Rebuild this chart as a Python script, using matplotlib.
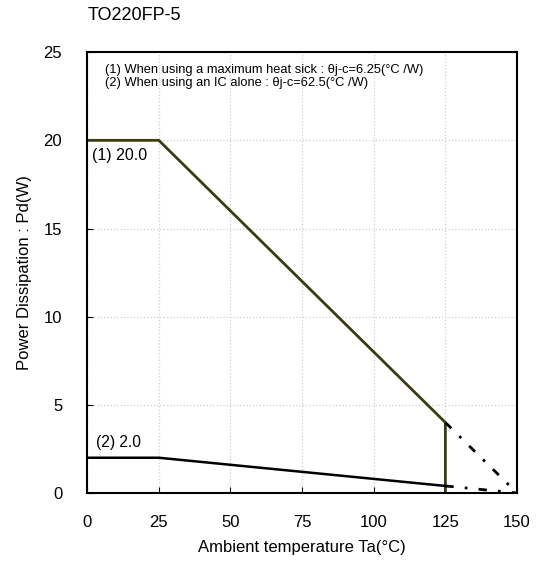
import matplotlib.pyplot as plt

plt.rcParams['font.family'] = ['Liberation Sans', 'DejaVu Sans']

# derating curves (solid part) and the extrapolated dashed part
ta_1 = [0, 25, 125, 125]
pd_1 = [20.0, 20.0, 4.0, 0.0]
ta_1_ext = [125, 150]
pd_1_ext = [4.0, 0.0]

ta_2 = [0, 25, 125]
pd_2 = [2.0, 2.0, 0.4]
ta_2_ext = [125, 150]
pd_2_ext = [0.4, 0.0]

xticks = [0, 25, 50, 75, 100, 125, 150]
yticks = [0, 5, 10, 15, 20, 25]

fig = plt.figure(figsize=(5.38, 5.67), dpi=100)
ax = fig.add_axes([0.162, 0.1305, 0.799, 0.7775])

ax.plot(ta_1, pd_1, color='#3b3b12', lw=2)
ax.plot(ta_1_ext, pd_1_ext, color='black', lw=2, linestyle=(0, (3, 4, 1, 4)))
ax.plot(ta_2, pd_2, color='black', lw=1.8)
ax.plot(ta_2_ext, pd_2_ext, color='black', lw=2, linestyle=(0, (3, 4, 1, 4)))

ax.set_xlim(0, 150)
ax.set_ylim(0, 25)
ax.set_xticks(xticks)
ax.set_yticks(yticks)
ax.tick_params(direction='in', labelsize=12, length=4)
ax.tick_params(axis='x', pad=16)
ax.tick_params(axis='y', pad=18)
ax.grid(True, color='#cfcfcf', linestyle=':', linewidth=0.9)
for s in ax.spines.values():
    s.set_linewidth(1.5)

ax.set_xlabel('Ambient temperature Ta(\u00b0C)', fontsize=12, labelpad=7)
ax.set_ylabel('Power Dissipation : Pd(W)', fontsize=12, labelpad=8)

ax.text(6.2, 24.35, '(1) When using a maximum heat sick : \u03b8j-c=6.25(\u00b0C /W)\n'
        '(2) When using an IC alone : \u03b8j-c=62.5(\u00b0C /W)',
        fontsize=9.3, va='top', ha='left', linespacing=1.2)
ax.text(1.7, 18.9, '(1) 20.0', fontsize=11.5)
ax.text(3, 2.6, '(2) 2.0', fontsize=11.2)

fig.text(0.162, 0.972, 'TO220FP-5', fontsize=13, va='center', ha='left')

fig.savefig('out.png', dpi=100)
